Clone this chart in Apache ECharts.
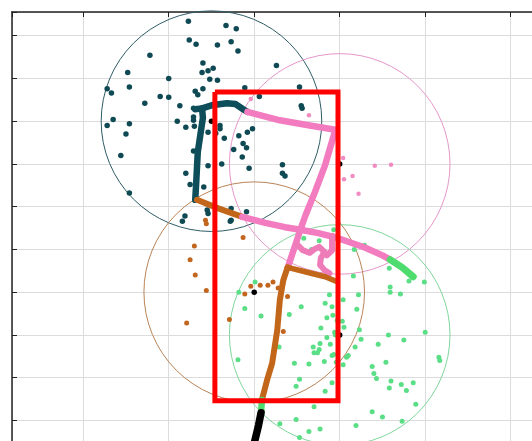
<!DOCTYPE html>
<html>
<head>
<meta charset="utf-8">
<script src="https://cdn.jsdelivr.net/npm/echarts@6.0.0/dist/echarts.min.js"></script>
<style>
  html, body { margin: 0; padding: 0; background: #fff; }
  #chart { width: 532px; height: 441px; }
</style>
</head>
<body>
<div id="chart"></div>
<script>
// 区域圆: [x, y, r]
const zoneCircles = [
  [25, 35, 12.9],
  [40, 30, 12.9],
  [30, 15, 12.9],
  [40, 10, 12.9]
]
const zoneColors = ['#2f5d66', '#e597c9', '#b98458', '#80d69c']

// 散点
const tealPts = [
  [22.3,46.7],[26.7,46.2],[27.9,45.8],[22.4,44.5],[23.2,44.0],[25.7,43.9],[27.3,44.3],[28.1,43.2],
  [17.8,42.7],[24.0,41.8],[23.9,40.7],[24.6,40.9],[25.2,41.2],[24.8,39.9],[25.7,39.8],[15.2,40.7],
  [20.0,40.0],[15.4,39.0],[12.8,38.8],[13.3,38.3],[23.1,38.5],[24.0,38.8],[23.4,38.1],[19.0,37.9],
  [20.0,37.8],[17.2,37.1],[21.3,36.8],[13.5,35.2],[12.8,34.5],[15.4,34.7],[15.0,33.5],[21.0,35.0],
  [22.0,34.3],[23.0,34.4],[22.9,35.5],[26.0,34.5],[26.0,34.1],[24.6,33.7],[26.5,33.0],[28.2,33.3],
  [29.2,33.7],[29.8,34.1],[28.7,32.4],[29.1,31.9],[27.6,31.7],[28.6,30.8],[29.4,29.5],[26.2,30.0],
  [24.6,29.8],[22.9,31.5],[14.4,31.0],[22.0,28.9],[22.5,27.6],[15.4,26.6],[24.1,27.3],[28.9,38.9],
  [30.6,37.9],[32.6,41.5],[35.3,39.0],[35.5,36.8],[35.6,36.5],[33.3,29.9],[33.3,28.9],[33.6,28.6],
  [24.5,24.6],[24.6,24.2],[27.3,24.8],[29.1,24.4],[27.3,23.4],[21.6,23.3],[27.2,23.3],[21.9,23.9],
  [22.9,36.5],[22.9,35.1],[25.5,33.6]
]
const pinkPts = [
  [36.4,35.7],[29.6,37.6],[39.8,35.7],[40.4,30.7],[40.5,28.2],[41.5,28.6],[42.2,26.5],[44.1,29.8],[46.0,29.9]
]
const orangePts = [
  [24.3,23.4],[24.4,23.0],[23.0,20.4],[22.5,18.8],[23.1,17.0],[24.4,15.2],[22.1,11.4],[27.1,11.8],
  [28.7,21.4],[29.6,15.7],[28.9,14.8],[30.7,15.8],[31.6,15.8],[32.2,16.2],[32.8,15.5],[33.9,14.5],[33.4,10.4]
]
const greenPts = [
  [35.8,21.3],[37.6,21.0],[39.3,22.3],[36.7,20.0],[41.7,20.0],[42.9,20.5],[45.8,17.8],[45.9,15.6],
  [45.9,15.0],[47.1,14.8],[49.9,16.2],[48.1,16.3],[41.6,16.9],[38.8,14.7],[42.2,14.7],[40.4,14.1],
  [38.3,13.7],[39.1,13.3],[35.5,13.3],[34.1,12.4],[42.0,13.0],[38.5,12.0],[39.2,12.3],[39.7,11.7],
  [40.3,11.6],[40.5,10.9],[37.8,10.8],[39.4,10.3],[39.5,10.0],[38.5,9.7],[42.3,10.6],[42.5,9.5],
  [45.7,10.0],[47.5,9.4],[44.5,8.9],[41.8,8.6],[50.0,10.3],[37.7,9.0],[38.9,8.9],[36.9,8.6],
  [37.6,8.3],[37.0,7.9],[37.4,7.9],[39.1,7.6],[39.3,7.7],[41.0,7.6],[40.8,7.4],[38.2,6.9],
  [39.6,6.8],[34.7,6.7],[36.4,6.6],[40.4,6.5],[43.8,6.3],[45.4,6.8],[44.0,5.5],[44.3,4.9],
  [51.6,7.4],[51.7,7.0],[35.3,4.8],[34.9,4.0],[39.1,4.4],[38.3,3.4],[46.0,4.6],[45.8,3.8],
  [47.2,4.2],[47.8,3.5],[48.6,4.4],[48.9,1.9],[37.0,1.6],[43.8,1.0],[45.0,0.4],[47.3,-0.1],
  [34.9,0.1],[33.0,-0.4],[41.9,-0.6],[36.4,-1.3],[37.7,-1.0],[35.3,-2.0],[32.9,8.6],[28.2,15.0],
  [30.1,16.2],[28.9,13.1],[30.8,12.2],[28.1,7.1]
]

// 轨迹
const tealTrack = [
  [23.1,25.8],[23.2,27.5],[23.4,31.4],[23.7,33.4],[24.0,35.4],[23.9,36.5],[25.2,36.9],[26.8,37.1],
  [27.8,37.0],[28.7,36.4],[29.2,36.1]
]
const tealStub = [[23.1,36.4],[23.9,36.5]]
const pinkTrackA = [
  [29.2,36.1],[33.0,35.1],[36.5,34.5],[39.5,34.0],[38.3,29.9],[37.1,26.7],[36.0,24.0],[35.4,22.3],
  [34.6,19.9],[33.9,17.8]
]
const orangeTrackB = [[23.3,25.8],[25.8,24.8],[28.6,23.8]]
const pinkTrackB = [
  [28.6,23.8],[31.3,23.1],[33.6,22.6],[35.4,22.3],[37.5,21.9],[39.5,21.4],[41.0,20.9],[43.0,20.2],
  [45.0,19.3],[45.9,18.8]
]
const greenTrackB = [[45.9,18.8],[47.3,17.9],[48.6,16.8]]
const pinkLoop = [
  [34.9,20.7],[35.7,19.9],[36.5,19.6],[37.0,20.0],[37.6,20.3],[38.2,19.7],[37.8,19.0],[37.7,18.2],
  [38.2,17.6],[38.8,17.2]
]
const pinkLoopSide = [[39.1,21.6],[39.1,19.9],[38.5,19.3],[38.2,19.7]]
const orangeTrackC = [[33.9,17.9],[36.3,17.3],[38.3,16.8],[39.5,16.3]]
const orangeTrackD = [[33.9,17.9],[33.4,16.4],[33.0,14.1],[32.7,10.6],[32.1,6.7],[31.5,4.7],[30.9,2.4]]
const greenTrackD = [[30.9,2.4],[30.8,0.9]]
const blackTrack = [[30.8,0.9],[30.5,-0.6],[29.8,-3.5]]

// 选框
const selectBox = [[25.4,38.4],[39.8,38.4],[39.8,2.3],[25.4,2.3],[25.4,38.4]]

const chart = echarts.init(document.getElementById('chart'))

const track = (data, color, width) => ({
  type: 'line',
  data: data,
  showSymbol: false,
  symbol: 'none',
  lineStyle: { color: color, width: width, cap: 'round', join: 'round' },
  z: 4,
  silent: true
})

const dots = (data, color, size) => ({
  type: 'scatter',
  data: data,
  symbolSize: size,
  itemStyle: { color: color, opacity: 1 },
  z: 3,
  silent: true
})

const option = {
  backgroundColor: '#fff',
  animation: false,
  grid: { left: 12, top: 12, right: -20, bottom: -29, outerBoundsMode: 'none', containLabel: false },
  xAxis: {
    type: 'value',
    position: 'top',
    min: 1.67,
    max: 64.83,
    minInterval: 10,
    maxInterval: 10,
    axisLine: { show: true, onZero: false, lineStyle: { color: '#222', width: 1.5 } },
    axisTick: { show: true, inside: true, length: 5, lineStyle: { color: '#222' } },
    axisLabel: { show: false },
    splitLine: { show: true, lineStyle: { color: '#dcdcdc', width: 1 } }
  },
  yAxis: {
    type: 'value',
    position: 'left',
    min: -5.8,
    max: 47.77,
    minInterval: 5,
    maxInterval: 5,
    axisLine: { show: true, onZero: false, lineStyle: { color: '#222', width: 1.5 } },
    axisTick: { show: true, inside: true, length: 5, lineStyle: { color: '#222' } },
    axisLabel: { show: false },
    splitLine: { show: true, lineStyle: { color: '#dcdcdc', width: 1 } }
  },
  series: [
    {
      type: 'custom',
      data: zoneCircles,
      encode: { x: 0, y: 1 },
      z: 2,
      silent: true,
      renderItem: (params, api) => {
        const c = api.coord([api.value(0), api.value(1)])
        const r = api.size([api.value(2), 0])[0]
        return {
          type: 'circle',
          shape: { cx: c[0], cy: c[1], r: r },
          style: { fill: 'none', stroke: zoneColors[params.dataIndex], lineWidth: 1 }
        }
      }
    },
    dots(tealPts, '#0f4a54', 5.5),
    dots(pinkPts, '#f08cc2', 4.5),
    dots(orangePts, '#c2651e', 5),
    dots(greenPts, '#5ade86', 5),
    // 圆心
    dots(zoneCircles.map(c => [c[0], c[1]]), '#000', 5.5),
    track(tealTrack, '#0d4e5a', 6.5),
    track(tealStub, '#0d4e5a', 6.5),
    track(orangeTrackB, '#c2661a', 6),
    track(pinkTrackB, '#f27cbf', 6.5),
    track(greenTrackB, '#4fdc6e', 7),
    track(pinkTrackA, '#f27cbf', 6.5),
    track(pinkLoop, '#ee7cb8', 6),
    track(pinkLoopSide, '#ee7cb8', 6),
    track(orangeTrackC, '#c2661a', 5.5),
    track(orangeTrackD, '#c2661a', 6),
    track(greenTrackD, '#4fdc6e', 6.5),
    track(blackTrack, '#000', 7.5),
    {
      type: 'line',
      data: selectBox,
      showSymbol: false,
      symbol: 'none',
      lineStyle: { color: '#ff0000', width: 5, join: 'miter' },
      z: 6,
      silent: true
    }
  ]
}

chart.setOption(option)
</script>
</body>
</html>
